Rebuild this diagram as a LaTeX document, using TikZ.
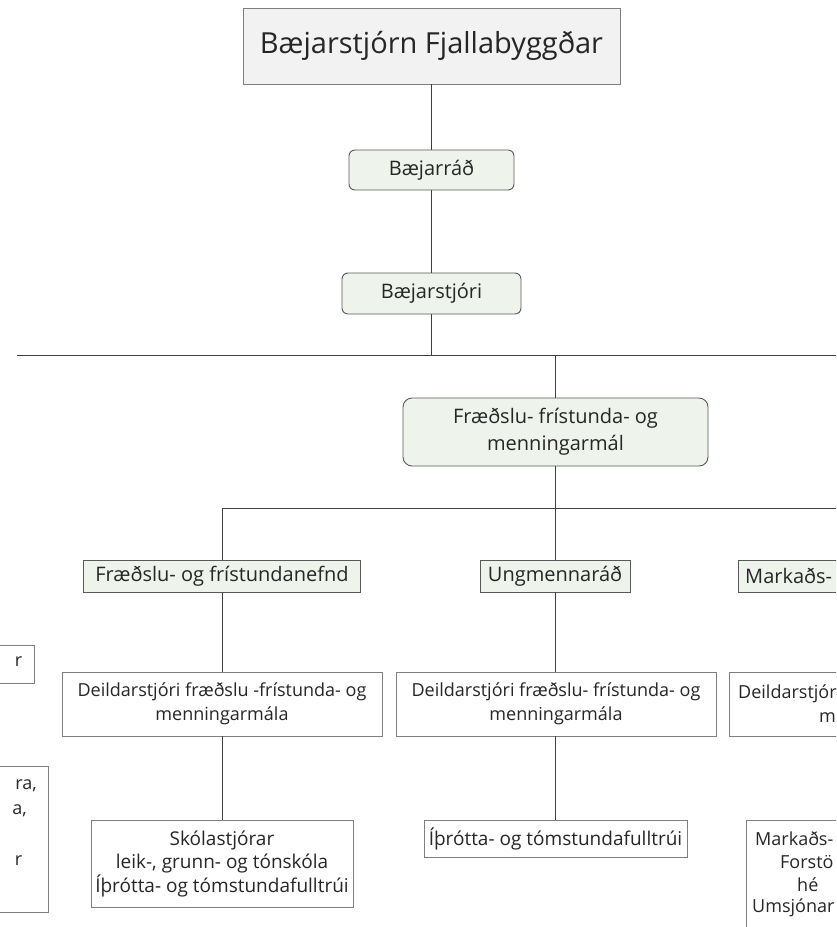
\documentclass[tikz,border=0pt]{standalone}
\usepackage{fontspec}
\setmainfont{Open Sans}
\definecolor{lgreen}{HTML}{EEF4EC}
\definecolor{tgray}{HTML}{F2F2F2}
\definecolor{bgray}{HTML}{7F7F7F}
\definecolor{dgray}{HTML}{595959}
\definecolor{lgray}{HTML}{404040}
\definecolor{txt}{HTML}{262626}
\tikzset{
  box/.style={draw=bgray, line width=0.9pt, inner sep=0pt, align=center, text=txt,
    font=\fontsize{18}{24}\selectfont},
  bigtext/.style={font=\fontsize{20}{27}\selectfont},
  midtext/.style={font=\fontsize{19}{23.5}\selectfont},
  gbox/.style={box, fill=lgreen, draw=dgray, bigtext},
  rbox/.style={gbox, rounded corners=6pt},
  wbox/.style={box, fill=white},
  frag/.style={inner sep=0pt, text=txt, font=\fontsize{18}{24}\selectfont},
  conn/.style={draw=lgray, line width=0.9pt}
}
\begin{document}
\begin{tikzpicture}[x=1pt,y=-1pt]
\useasboundingbox (0,0) rectangle (836,927);
\clip (0,0) rectangle (836,927);
% nodes
\node[box, fill=tgray, minimum width=377pt, minimum height=76pt, font=\fontsize{29}{34}\selectfont] (top) at (431.5,46) {Bæjarstjórn Fjallabyggðar};
\node[rbox, minimum width=165pt, minimum height=40pt] (rad) at (431.5,170) {Bæjarráð};
\node[rbox, minimum width=179pt, minimum height=41pt] (stj) at (431.5,293.5) {Bæjarstjóri};
\node[rbox, rounded corners=9pt, minimum width=305pt, minimum height=68pt] (fm) at (555.5,432) {Fræðslu- frístunda- og\\menningarmál};
\node[gbox, minimum width=277pt, minimum height=32pt] (nef) at (222,576) {Fræðslu- og frístundanefnd};
\node[gbox, minimum width=150pt, minimum height=32pt] (ung) at (555,576) {Ungmennaráð};
\node[gbox, minimum width=160pt, minimum height=32pt] (mark) at (818,576) {};
\node[frag, bigtext, anchor=west] (markt) at (745,576) {Markaðs-};
\node[wbox, minimum width=320pt, minimum height=64pt] (d1) at (222,704) {Deildarstjóri fræðslu -frístunda- og\\menningarmála};
\node[wbox, minimum width=320pt, minimum height=64pt] (d2) at (556,704) {Deildarstjóri fræðslu- frístunda- og\\menningarmála};
\node[wbox, minimum width=200pt, minimum height=64pt] (d3) at (829,704) {};
\node[frag, anchor=west] (d3a) at (738,694) {Deildarstjór};
\node[frag, anchor=west] (d3b) at (819,718) {m};
\node[wbox, minimum width=140pt, minimum height=38pt] (lp1) at (-36,664) {};
\node[frag, anchor=east] (lp1t) at (22.5,662) {r};
\node[wbox, minimum width=148pt, minimum height=146pt] (lp2) at (-26,839) {};
\node[frag, anchor=east] (lp2a) at (37,786) {ra,};
\node[frag, anchor=east] (lp2b) at (27,811) {a,};
\node[frag, anchor=east] (lp2c) at (22.5,861) {r};
\node[wbox, midtext, minimum width=262pt, minimum height=87pt] (sk) at (222,863.5) {Skólastjórar\\leik-, grunn- og tónskóla\\Íþrótta- og tómstundafulltrúi};
\node[wbox, midtext, minimum width=263pt, minimum height=37pt] (ith) at (555.5,838.5) {Íþrótta- og tómstundafulltrúi};
\node[wbox, minimum width=200pt, minimum height=140pt] (mb) at (846,890) {};
\node[frag, anchor=west] (mb1) at (755,839) {Markaðs-};
\node[frag, anchor=west] (mb2) at (780,862) {Forstö};
\node[frag, anchor=west] (mb3) at (797,885) {hé};
\node[frag, anchor=west] (mb4) at (752,908) {Umsjónar};
% coordinates
\coordinate (j1) at (431.5,355);
\coordinate (h1l) at (17,355);
\coordinate (h1r) at (840,355);
\coordinate (j2) at (555.5,355);
\coordinate (j3) at (555.5,508);
\coordinate (h2l) at (222,508);
\coordinate (h2r) at (840,508);
% connectors
\draw[conn] (top.south) -- (rad.north);
\draw[conn] (rad.south) -- (stj.north);
\draw[conn] (stj.south) -- (j1);
\draw[conn] (h1l) -- (h1r);
\draw[conn] (j2) -- (fm.north);
\draw[conn] (fm.south) -- (j3);
\draw[conn] (h2l) -- (h2r);
\draw[conn] (h2l) -- (nef.north);
\draw[conn] (ung.north |- h2l) -- (ung.north);
\draw[conn] (nef.south) -- (d1.north);
\draw[conn] (ung.south) -- (ung.south |- d2.north);
\draw[conn] (d1.south) -- (sk.north);
\draw[conn] (ung.south |- d2.south) -- (ung.south |- ith.north);
\end{tikzpicture}
\end{document}
